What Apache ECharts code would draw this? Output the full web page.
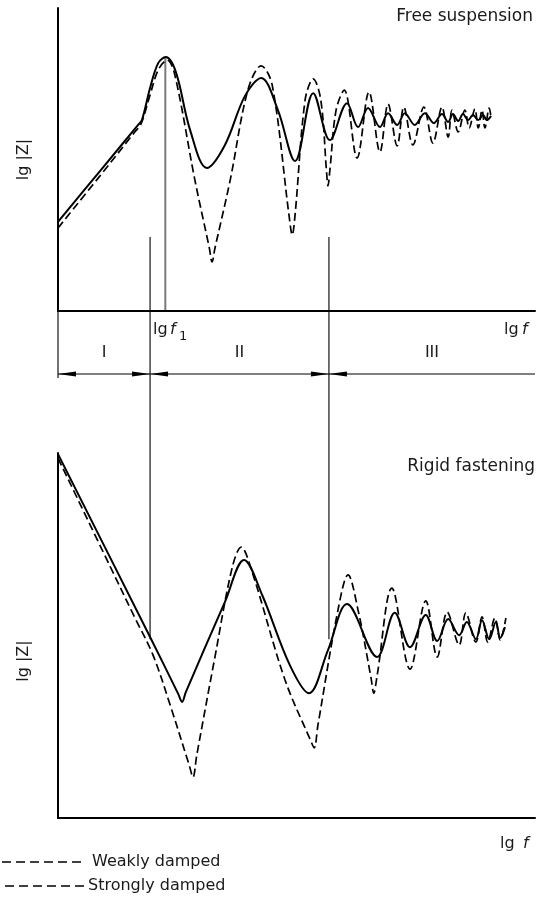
<!DOCTYPE html>
<html>
<head>
<meta charset="utf-8">
<script src="https://cdn.jsdelivr.net/npm/echarts@6/dist/echarts.min.js"></script>
<style>
  html, body { margin: 0; padding: 0; background: #fff; }
  #chart { width: 544px; height: 903px; }
</style>
</head>
<body>
<div id="chart"></div>
<script>
// Impedance magnitude lg|Z| against lg f (schematic units, 0..100 on both axes)

// Free suspension, strongly damped (solid)
const freeStrong = [
  [0, 29.4], [8.8, 46.2], [16.8, 61.4], [17.6, 63.0], [19.3, 73.6], [21.0, 81.8],
  [22.6, 83.8], [24.7, 78.9], [27.7, 59.7], [31.2, 47.2], [35.0, 54.8], [39.2, 71.0],
  [42.6, 76.9], [46.1, 66.3], [49.7, 49.5], [53.5, 71.9], [57.0, 56.4], [60.6, 68.6],
  [62.9, 60.7], [65.0, 67.0], [67.5, 60.7], [69.2, 65.3], [71.1, 61.4], [72.7, 65.3],
  [74.8, 61.4], [76.9, 65.3], [78.8, 62.0], [80.5, 65.0], [81.8, 62.4], [82.8, 65.0],
  [83.9, 62.7], [84.9, 65.0], [86.0, 63.0], [87.0, 64.7], [88.1, 63.0], [89.1, 64.7],
  [89.9, 63.0], [90.8, 64.4]
];

// Free suspension, weakly damped (dashed)
const freeWeak = [
  [0, 27.4], [8.8, 44.6], [16.1, 59.1], [17.4, 61.7], [19.3, 71.3], [21.0, 79.5],
  [22.9, 82.8], [24.5, 77.9], [28.7, 43.2], [31.7, 21.0], [32.3, 16.2], [32.9, 20.7],
  [36.1, 43.2], [39.8, 72.9], [42.6, 80.9], [44.9, 74.6], [48.5, 30.7], [49.1, 25.1],
  [49.7, 31.7], [51.8, 69.6], [53.5, 76.6], [55.1, 69.6], [56.3, 45.9], [56.6, 41.3],
  [57.0, 46.5], [58.3, 66.3], [60.0, 72.9], [62.7, 50.5], [65.2, 72.3], [67.5, 52.5],
  [69.2, 68.3], [71.1, 54.5], [72.5, 67.3], [74.4, 54.8], [76.7, 67.3], [78.6, 55.4],
  [80.5, 67.3], [81.8, 57.4], [82.6, 66.3], [83.9, 59.1], [85.3, 66.3], [86.2, 60.4],
  [87.4, 66.7], [88.1, 60.4], [88.9, 66.3], [89.5, 60.4], [90.4, 67.0], [90.8, 63.7]
];

// Rigid fastening, strongly damped (solid)
const rigidStrong = [
  [0, 99.7], [19.3, 49.6], [25.2, 34.0], [26.0, 31.8], [26.8, 34.5], [35.0, 59.2],
  [39.0, 70.7], [42.8, 61.1], [48.6, 41.9], [52.6, 34.2], [56.6, 46.0], [60.6, 58.6],
  [66.9, 44.1], [70.6, 56.2], [73.8, 46.8], [77.1, 55.6], [79.5, 48.5], [81.8, 54.5],
  [84.1, 50.1], [85.7, 53.7], [87.6, 49.0], [88.9, 54.2], [90.4, 49.0], [91.8, 53.7],
  [92.7, 49.3], [93.7, 52.3]
];

// Rigid fastening, weakly damped (dashed)
const rigidWeak = [
  [0, 98.6], [10.9, 69.0], [16.1, 54.9], [19.9, 44.7], [23.5, 31.0], [27.5, 14.5],
  [28.3, 11.2], [29.1, 17.3], [32.9, 44.1], [36.5, 68.5], [38.4, 74.2], [40.7, 67.4],
  [47.6, 37.8], [53.0, 21.1], [53.7, 19.2], [54.5, 25.5], [58.7, 57.0], [60.8, 66.6],
  [62.9, 57.0], [65.6, 38.6], [66.2, 34.2], [66.9, 39.0], [70.0, 63.0], [73.8, 40.8],
  [77.1, 59.5], [79.5, 44.1], [81.6, 56.4], [84.1, 47.4], [85.5, 56.2], [87.6, 48.2],
  [88.9, 55.1], [90.1, 48.2], [91.6, 54.8], [92.7, 48.8], [93.9, 54.8]
];

// Frequency ranges I / II / III and the first resonance lg f1
const regionBounds = [19.3, 56.8];
const regionLabels = ['I', 'II', 'III'];
const f1 = 22.5;
const f1Peak = 83.8;
const boundTopLevel = 24.4;    // where the range markers start in the upper panel
const boundBottomLevel = 49.0; // where they end in the lower panel

const panelTitles = ['Free suspension', 'Rigid fastening'];
const legendTexts = ['Weakly damped', 'Strongly damped'];

const FONT = "'DejaVu Sans', sans-serif";
const INK = '#000';

const chart = echarts.init(document.getElementById('chart'), null, { renderer: 'canvas' });

const axisCommon = {
  type: 'value', min: 0, max: 100,
  axisLine: { show: true, onZero: false, lineStyle: { color: INK, width: 2 } },
  axisTick: { show: false }, axisLabel: { show: false }, splitLine: { show: false }
};

function curve(data, idx, dashed) {
  return {
    type: 'line', xAxisIndex: idx, yAxisIndex: idx, data: data,
    smooth: 0.35, showSymbol: false, silent: true, animation: false,
    lineStyle: dashed ? { color: INK, width: 1.7, type: [8, 4] } : { color: INK, width: 2 }
  };
}

chart.setOption({
  animation: false,
  grid: [
    { left: 58, top: 8, width: 477, height: 303 },
    { left: 58, top: 453, width: 477, height: 365 }
  ],
  xAxis: [Object.assign({ gridIndex: 0 }, axisCommon), Object.assign({ gridIndex: 1 }, axisCommon)],
  yAxis: [Object.assign({ gridIndex: 0 }, axisCommon), Object.assign({ gridIndex: 1 }, axisCommon)],
  series: [
    curve(freeStrong, 0, false), curve(freeWeak, 0, true),
    curve(rigidStrong, 1, false), curve(rigidWeak, 1, true)
  ]
});

// Annotations placed from axis values
const topPx = (x, y) => chart.convertToPixel({ xAxisIndex: 0, yAxisIndex: 0 }, [x, y]);
const botPx = (x, y) => chart.convertToPixel({ xAxisIndex: 1, yAxisIndex: 1 }, [x, y]);

const g = [];
const line = (x1, y1, x2, y2, stroke, w, dash) => g.push({
  type: 'line', silent: true,
  shape: { x1, y1, x2, y2 },
  style: { stroke: stroke || INK, lineWidth: w || 1.1, lineDash: dash || null }
});
const text = (t, x, y, opt) => g.push(Object.assign({
  type: 'text', silent: true, x, y,
  style: Object.assign({ text: t, fill: '#1a1a1a', font: '16px ' + FONT, textVerticalAlign: 'middle' }, (opt && opt.style) || {})
}, opt && opt.el ? opt.el : {}));
const arrowHead = (tx, ty, dir) => g.push({
  type: 'polygon', silent: true,
  shape: { points: [[tx, ty], [tx - dir * 18, ty - 2.4], [tx - dir * 18, ty + 2.4]] },
  style: { fill: INK }
});

const axisTopY = topPx(0, 0)[1];
const leftX = topPx(0, 0)[0];
const rightX = topPx(100, 0)[0];
const bracketY = axisTopY + 63;

// range bracket
line(leftX, bracketY, rightX, bracketY);
line(leftX, axisTopY, leftX, bracketY + 4);
regionBounds.forEach(b => {
  const p1 = topPx(b, boundTopLevel);
  const p2 = botPx(b, boundBottomLevel);
  line(p1[0], p1[1], p2[0], p2[1]);
  arrowHead(p1[0], bracketY, 1);
  arrowHead(p1[0], bracketY, -1);
});
arrowHead(leftX, bracketY, -1);

const edges = [0].concat(regionBounds, [100]);
regionLabels.forEach((lab, i) => {
  const cx = topPx((edges[i] + edges[i + 1]) / 2, 0)[0];
  text(lab, cx, bracketY - 21, { style: { textAlign: 'center' } });
});

// lg f1 marker
const f1a = topPx(f1, 0), f1b = topPx(f1, f1Peak);
line(f1a[0], f1a[1], f1b[0], f1b[1], '#7a7a7a', 2);
const lblY = axisTopY + 19;
const f1x = topPx(regionBounds[0], 0)[0];
text('lg', f1x + 3, lblY);
text('f', f1x + 20, lblY, { style: { font: 'italic 16px ' + FONT } });
text('1', f1x + 29, lblY + 7, { style: { font: '13px ' + FONT } });

// axis names
text('lg', rightX - 31, lblY);
text('f', rightX - 13, lblY, { style: { font: 'italic 16px ' + FONT } });
const axisBotY = botPx(0, 0)[1];
text('lg', rightX - 35, axisBotY + 26);
text('f', rightX - 12, axisBotY + 26, { style: { font: 'italic 16px ' + FONT } });

text('lg |Z|', 24, topPx(0, 50)[1], { style: { textAlign: 'center' }, el: { rotation: Math.PI / 2 } });
text('lg |Z|', 24, botPx(0, 43)[1], { style: { textAlign: 'center' }, el: { rotation: Math.PI / 2 } });

// panel titles
text(panelTitles[0], 533, 17, { style: { textAlign: 'right', font: '17px ' + FONT } });
text(panelTitles[1], 535, 467, { style: { textAlign: 'right', font: '17px ' + FONT } });

// key
legendTexts.forEach((t, i) => {
  const y = axisBotY + 44 + i * 24;
  line(2 + i * 3, y, 82 + i * 3, y, INK, 1.5, [9, 5]);
  text(t, 92 - i * 4, y, { style: { font: '16px ' + FONT } });
});

chart.setOption({ graphic: g });
</script>
</body>
</html>
